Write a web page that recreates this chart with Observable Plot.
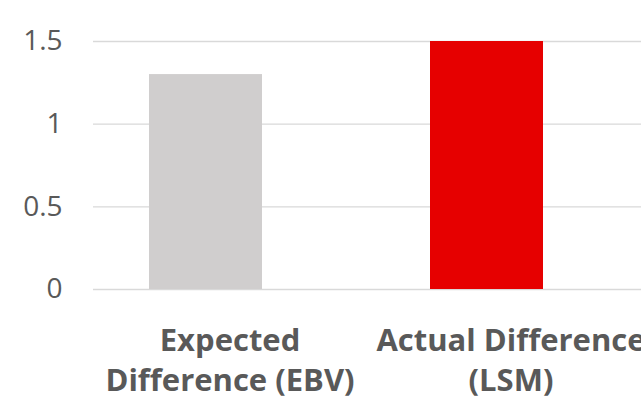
<!DOCTYPE html>
<html>
<head>
<meta charset="utf-8">
<script src="https://cdn.jsdelivr.net/npm/d3@7"></script>
<script src="https://cdn.jsdelivr.net/npm/@observablehq/plot@0.6"></script>
<style>
  html, body { margin: 0; padding: 0; background: #fff; }
  #chart svg { display: block; }
</style>
</head>
<body>
<div id="chart"></div>
<script>
const categories = ["Expected Difference (EBV)", "Actual Difference (LSM)"];
const labels = ["Expected\nDifference (EBV)", "Actual Difference\n(LSM)"];
const values = [1.3, 1.5];
const colors = ["#d0cece", "#e60000"];
const yTicks = [0, 0.5, 1, 1.5];

const data = categories.map((c, i) => ({category: c, value: values[i], color: colors[i]}));
const labelOf = new Map(categories.map((c, i) => [c, labels[i]]));

const chart = Plot.plot({
  width: 641,
  height: 399,
  marginLeft: 93,
  marginRight: 0,
  marginTop: 41,
  marginBottom: 110,
  style: {fontFamily: "'Open Sans', sans-serif", background: "#fff", overflow: "hidden"},
  x: {domain: categories, range: [65, 627], paddingInner: 0.598, paddingOuter: 0.299},
  y: {domain: [0, 1.5]},
  marks: [
    Plot.gridY(yTicks, {stroke: "#d9d9d9", strokeOpacity: 1, strokeWidth: 1.3}),
    Plot.barY(data, {x: "category", y: "value", fill: "color"}),
    Plot.axisY(yTicks, {tickSize: 0, tickPadding: 31, fontSize: 28, fill: "#595959", tickFormat: d => String(d), label: null}),
    Plot.axisX({tickSize: 0, tickPadding: 34, fontSize: 31, fontWeight: "bold", lineHeight: 1.27, dx: 24, fill: "#595959", tickFormat: d => labelOf.get(d), label: null})
  ]
});
document.getElementById("chart").appendChild(chart);
</script>
</body>
</html>
